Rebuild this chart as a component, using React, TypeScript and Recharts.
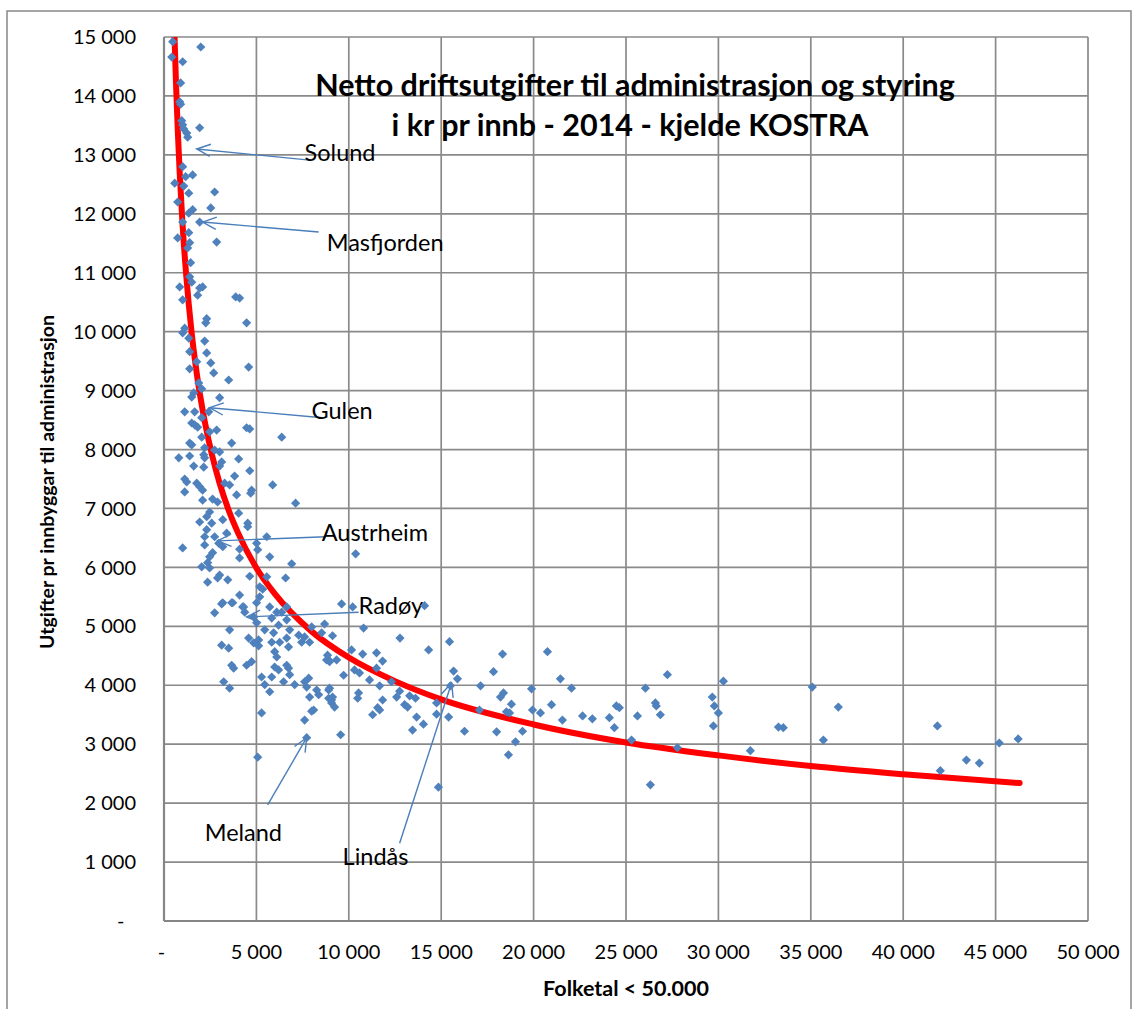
import React from 'react';
import { ComposedChart, Scatter, Line, XAxis, YAxis, CartesianGrid, ReferenceLine } from 'recharts';

// Municipalities: [folketal, utgift pr innbyggar]
const kommunePoints: [number, number][] = [
  [470,14920],[1990,14830],[420,14660],[1010,14580],[900,14220],[850,13900],[900,13860],[960,13580],[1010,13510],[1070,13440],[1230,13370],[1280,13300],[1930,13460],[1010,12800],[580,12520],[1170,12630],[1550,12660],[1340,12350],[1070,12470],[740,12200],[2740,12370],[2530,12100],[1550,12070],[1340,12010],[1930,11860],[1010,11860],[740,11590],[1340,11680],[1390,11510],[2850,11520],[1280,11420],[1440,11170],[1390,10930],[1500,10840],[1930,10740],[2090,10760],[1820,10620],[850,10760],[1010,10540],[3880,10590],[4090,10570],[2310,10220],[4470,10150],[1120,10060],[2260,10150],[1010,9980],[1340,9890],[2200,9840],
  [1390,9660],[2310,9640],[1770,9490],[2530,9470],[1390,9370],[2690,9300],[4580,9400],[3500,9180],[1880,9130],[2040,9030],[1610,8960],[1500,8890],[3010,8880],[1120,8640],[1660,8640],[2420,8640],[2040,8540],[1500,8450],[1660,8420],[1820,8380],[2850,8330],[4470,8370],[4640,8350],[2040,8210],[2470,8300],[6370,8210],[1390,8110],[1500,8080],[3660,8110],[2200,8030],[2740,7990],[3010,7960],[800,7860],[1390,7890],[2150,7910],[2200,7860],[3120,7790],[4040,7840],[1610,7720],[2150,7700],[3010,7720],[4640,7640],[3820,7550],[1120,7500],
  [1230,7450],[1770,7430],[1930,7370],[1120,7280],[2090,7310],[3280,7430],[3550,7400],[3930,7230],[4740,7310],[4690,7260],[5880,7400],[7120,7090],[2090,7140],[2630,7160],[2900,7110],[2470,6940],[2310,6860],[1930,6770],[2580,6750],[3180,6810],[4040,6920],[4530,6750],[4530,6690],[2310,6640],[2200,6520],[2740,6520],[2960,6410],[1010,6330],[2200,6380],[3390,6580],[3180,6350],[4090,6310],[5010,6410],[5560,6520],[5070,6300],[5720,6180],[6910,6060],[2470,6180],[2630,6250],[2360,6080],[2040,6010],[2470,5990],[4090,6160],[3010,5870],[3450,5790],[2900,5820],[2360,5750],[4640,5850],[5180,5670],[5340,5630],[5560,5840],[6580,5820],[4090,5530],[3720,5400],[3180,5400],[2740,5230],[4260,5330],[5180,5500],[5720,5330],[6100,5240],[6640,5330],[9610,5380],[10210,5330],[10370,6230],
  [3120,5380],[3660,5400],[4310,5330],[4370,5240],[5010,5400],[4850,5160],[5010,5060],[5830,5140],[6370,5240],[6640,5110],[6200,5020],[3550,4940],[4580,4800],[5120,4770],[4850,4720],[5450,4940],[5930,4890],[6800,4940],[7290,4850],[7610,4820],[7990,4990],[8690,5040],[3120,4680],[3500,4630],[5120,4670],[5830,4730],[6260,4730],[6640,4800],[6740,4650],[7450,4730],[7880,4730],[5990,4570],[6100,4480],[3660,4340],[3770,4290],[4470,4340],[4740,4400],[5990,4310],[6200,4260],[6640,4340],[6740,4290],[8910,4430],[5280,4140],[5830,4140],[6800,4180],[6470,4060],[7830,4120],[7610,4060],[3230,4060],[3550,3950],[5450,4010],[5720,3890],[7070,4010],[7720,3970],[8260,3920],[7880,3800],[8370,3840],[8910,3920],[8910,3780],[8100,3580],[7610,3410],[5280,3530],[9070,3700],[7720,3110],[9560,3160],[7990,3560],[5070,2780],
  [8530,4890],[9120,4840],[10800,4970],[10150,4600],[10750,4530],[11500,4550],[11830,4410],[8850,4510],[8800,4430],[8960,4400],[9340,4430],[10310,4260],[10580,4210],[11500,4290],[9720,4170],[11120,4090],[11670,3990],[12310,4060],[12590,3800],[12750,3900],[8960,3950],[9120,3800],[9070,3750],[9230,3630],[10530,3870],[10480,3780],[11830,3750],[11560,3620],[11670,3580],[11290,3500],
  [14100,5350],[12770,4800],[14320,4600],[15450,4740],[18320,4530],[20750,4570],[15670,4240],[15880,4110],[17830,4230],[17130,3990],[15500,3990],[18370,3870],[18210,3800],[18800,3680],[19890,3940],[21450,4110],[22050,3950],[20970,3670],[19940,3580],[20370,3530],[18530,3550],[18700,3530],[21560,3410],[22650,3480],[23180,3430],[24100,3450],[24370,3280],[24480,3650],[24640,3620],[26050,3950],[26590,3700],[26640,3650],[26860,3500],[25620,3480],[27240,4180],[25300,3070],[27780,2940],[19400,3220],[19020,3040],[18640,2820],[18000,3210],[16260,3220],[15400,3460],[14750,3510],[14750,3700],[14040,3340],[13450,3240],[13670,3460],[13020,3670],[13180,3630],[13290,3820],[13610,3780],[17070,3580],[14850,2270],[26320,2310],[30270,4070],[29670,3800],[29780,3650],[30000,3530],[29730,3310],[31730,2890],[33250,3290],[33510,3280],[35080,3970],[36490,3630],[35680,3070],[41850,3310],[42010,2550],[43420,2730],[44120,2680],[45200,3020],[46220,3090],
];

// Trend curve
const trendX = [570, 650, 750, 850, 1000, 1200, 1500, 1800, 2200, 2600, 3000, 3500, 4000, 5000, 6000, 8000, 10000, 12500, 15000, 20000, 25000, 30000, 35000, 40000, 46300];
const trendY = [15000, 14210, 13380, 12690, 11840, 10965, 9970, 9230, 8485, 7905, 7440, 6970, 6590, 5990, 5550, 4910, 4470, 4070, 3760, 3335, 3030, 2810, 2630, 2490, 2340];

const xTicks = [0, 5000, 10000, 15000, 20000, 25000, 30000, 35000, 40000, 45000, 50000];
const yTicks = [0, 1000, 2000, 3000, 4000, 5000, 6000, 7000, 8000, 9000, 10000, 11000, 12000, 13000, 14000, 15000];

const annotationNames = ['Solund', 'Masfjorden', 'Gulen', 'Austrheim', 'Radøy', 'Meland', 'Lindås'];
const annotationFrom: [number, number][] = [[7880, 12910], [8370, 11690], [8580, 8540], [8750, 6520], [10530, 5240], [5610, 1970], [12750, 1320]];
const annotationTo: [number, number][] = [[1770, 13100], [2090, 11860], [2470, 8710], [2900, 6450], [4470, 5160], [7720, 3110], [15560, 4040]];
// label offsets (px) relative to line start
const labelOffset: [number, number][] = [[-5, -8], [8, 10], [-11, -8], [-4, -5], [0, -7], [-63, 27], [-57, 13]];

const points = kommunePoints.map(([x, y]) => ({ x, y }));
const trend = trendX.map((x, i) => ({ x, y: trendY[i] }));

const fmt = (v: number) => (v === 0 ? '-' : String(v).replace(/\B(?=(\d{3})+(?!\d))/g, ' '));
const fmtY = (v: number) => (v === 0 ? '-\u2007' : fmt(v));
const fmtX = (v: number) => (v === 0 ? '-\u00a0' : fmt(v));

const FONT = 'Lato, "Open Sans", sans-serif';

const Diamond = (props: any) => {
  const { cx, cy } = props;
  if (cx == null || cy == null) return null;
  const r = 4.6;
  return <path d={`M${cx},${cy - r}L${cx + r},${cy}L${cx},${cy + r}L${cx - r},${cy}Z`} fill="#4f81bd" />;
};

const makeArrow = (label: string, off: [number, number]) => (props: any) => {
  const { x1, y1, x2, y2 } = props;
  if ([x1, y1, x2, y2].some((v) => v == null || isNaN(v))) return null;
  const a = Math.atan2(y1 - y2, x1 - x2);
  const L = 15;
  const s = 0.42;
  const hx1 = x2 + L * Math.cos(a + s);
  const hy1 = y2 + L * Math.sin(a + s);
  const hx2 = x2 + L * Math.cos(a - s);
  const hy2 = y2 + L * Math.sin(a - s);
  return (
    <g>
      <line x1={x1} y1={y1} x2={x2} y2={y2} stroke="#4a7ebb" strokeWidth={1.4} />
      <polyline points={`${hx1},${hy1} ${x2},${y2} ${hx2},${hy2}`} fill="none" stroke="#4a7ebb" strokeWidth={1.4} />
      <text x={x1 + off[0]} y={y1 + off[1]} dominantBaseline="central" fontSize={23.5} fill="#000" fontFamily={FONT}>
        {label}
      </text>
    </g>
  );
};

export default function App() {
  return (
    <div style={{ position: 'absolute', left: 0, top: 0, width: 1134, height: 1009, overflow: 'hidden', background: '#fff', fontFamily: FONT }}>
      <ComposedChart width={1134} height={1009} margin={{ top: 37, right: 46, bottom: 48, left: 84 }}>
        <CartesianGrid stroke="#8a8a8a" strokeWidth={1.7} />
        <XAxis
          type="number"
          dataKey="x"
          domain={[0, 50000]}
          ticks={xTicks}
          tickFormatter={fmtX}
          height={40}
          tickSize={0}
          tickMargin={24}
          tickLine={false}
          axisLine={{ stroke: '#868686', strokeWidth: 2.2 }}
          tick={{ fontSize: 20, fill: '#000', fontFamily: FONT }}
          allowDataOverflow
        />
        <YAxis
          type="number"
          dataKey="y"
          domain={[0, 15000]}
          ticks={yTicks}
          tickFormatter={fmtY}
          width={80}
          tickSize={0}
          tickMargin={28}
          tickLine={false}
          axisLine={{ stroke: '#868686', strokeWidth: 2.2 }}
          tick={{ fontSize: 20, fill: '#000', fontFamily: FONT }}
          allowDataOverflow
        />
        <Scatter data={points} dataKey="y" shape={<Diamond />} isAnimationActive={false} />
        <Line data={trend} dataKey="y" type="monotone" stroke="#ff0000" strokeWidth={6} strokeLinecap="round" dot={false} activeDot={false} isAnimationActive={false} />
        {annotationNames.map((n, i) => (
          <ReferenceLine
            key={n}
            segment={[{ x: annotationFrom[i][0], y: annotationFrom[i][1] }, { x: annotationTo[i][0], y: annotationTo[i][1] }]}
            ifOverflow="visible"
            shape={makeArrow(n, labelOffset[i])}
          />
        ))}
      </ComposedChart>
      <svg width={1134} height={1009} style={{ position: 'absolute', left: 0, top: 0, pointerEvents: 'none' }}>
        <rect x={7} y={11} width={1124} height={1010} fill="none" stroke="#888" strokeWidth={1.5} />
        <text x={635} y={84} textAnchor="middle" dominantBaseline="central" fontSize={30.5} fontWeight="bold" fontFamily={FONT} fill="#000">
          Netto driftsutgifter til administrasjon og styring
        </text>
        <text x={630} y={124} textAnchor="middle" dominantBaseline="central" fontSize={30.5} fontWeight="bold" fontFamily={FONT} fill="#000">
          i kr pr innb - 2014 - kjelde KOSTRA
        </text>
        <text x={626} y={988} textAnchor="middle" dominantBaseline="central" fontSize={21.5} fontWeight="bold" fontFamily={FONT} fill="#000">
          Folketal &lt; 50.000
        </text>
        <text transform="translate(46,482) rotate(-90)" textAnchor="middle" dominantBaseline="central" fontSize={19.5} fontWeight="bold" fontFamily={FONT} fill="#000">
          Utgifter pr innbyggar til administrasjon
        </text>
      </svg>
    </div>
  );
}
